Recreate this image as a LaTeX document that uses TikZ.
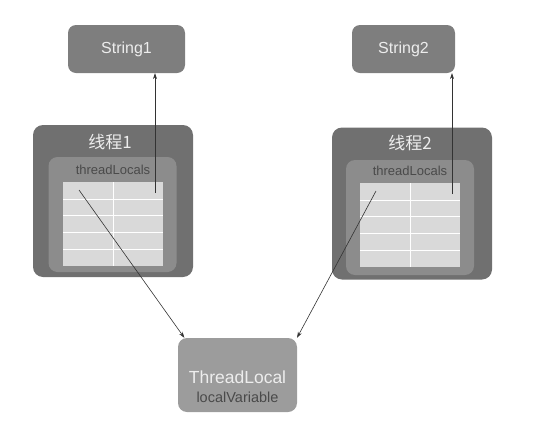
\documentclass[tikz,border=0pt]{standalone}
\usepackage{fontspec}
\setmainfont{Liberation Sans}
\newfontfamily\cjk{Noto Sans CJK SC}
\usepackage{tikz}
\usetikzlibrary{arrows.meta}
\definecolor{outergray}{HTML}{707070}
\definecolor{innergray}{HTML}{8C8C8C}
\definecolor{cellgray}{HTML}{D9D9D9}
\definecolor{boxgray}{HTML}{7E7E7E}
\definecolor{localgray}{HTML}{9C9C9C}
\definecolor{textdark}{HTML}{4A4A4A}
\definecolor{linedark}{HTML}{333333}

\begin{document}
\begin{tikzpicture}[x=1pt,y=-1pt,
    strbox/.style={fill=boxgray, rounded corners=8pt, minimum width=#1, minimum height=48pt,
                   text=white!93!black, font=\fontsize{16}{18}\selectfont, inner sep=0pt},
    thread/.style={fill=outergray, rounded corners=10pt, minimum width=160pt, minimum height=152pt, inner sep=0pt},
    mapbox/.style={fill=innergray, rounded corners=9pt, minimum width=128pt, minimum height=115pt, inner sep=0pt},
    ref/.style={draw=linedark, line width=0.6pt, -{Stealth[length=6pt,width=4pt]}}]
    \useasboundingbox (0,0) rectangle (542,429);

    \node[strbox=117pt] (s1) at (126.5,49) {String1};
    \node[strbox=103pt] (s2) at (403.5,49) {String2};

    \node[thread] (t1) at (113,201) {};
    \node[thread] (t2) at (412,203.5) {};
    \node[mapbox] (m1) at (112.5,214.5) {};
    \node[mapbox] (m2) at (410,217.5) {};

    \node[text=white!93!black, font=\fontsize{17}{19}\selectfont\cjk] (n1) at (110,142) {线程1};
    \node[text=white!93!black, font=\fontsize{17}{19}\selectfont\cjk] (n2) at (410,143) {线程2};
    \node[text=textdark, font=\fontsize{13}{15}\selectfont] (l1) at (113,170) {threadLocals};
    \node[text=textdark, font=\fontsize{13}{15}\selectfont] (l2) at (410,171) {threadLocals};

    \foreach \x/\y/\n in {63/182/1, 360/183/2} {
        \fill[cellgray] (\x,\y) rectangle ++(100,84);
        \foreach \r in {1,...,4}
            \draw[white, line width=0.6pt] (\x,\y+16.8*\r) -- ++(100,0);
        \draw[white, line width=0.6pt] (\x+50,\y) -- ++(0,84);
        \coordinate (k\n) at (\x+16,\y+8);
        \coordinate (v\n) at (\x+92,\y+11);
    }

    \node[fill=localgray, rounded corners=9pt, minimum width=119pt, minimum height=74pt, inner sep=0pt] (tl) at (237.5,375) {};
    \node[text=white!93!black, font=\fontsize{17.5}{19}\selectfont] (tln) at (237.5,377) {ThreadLocal};
    \node[text=textdark, font=\fontsize{14.5}{16}\selectfont] (tlv) at (237.5,397) {localVariable};

    \draw[ref] (k1) -- (tl.145);
    \draw[ref] (k2) -- (tl.32);
    \draw[ref] (v1) -- (v1 |- s1.south);
    \draw[ref] (v2) -- (v2 |- s2.south);
\end{tikzpicture}
\end{document}
